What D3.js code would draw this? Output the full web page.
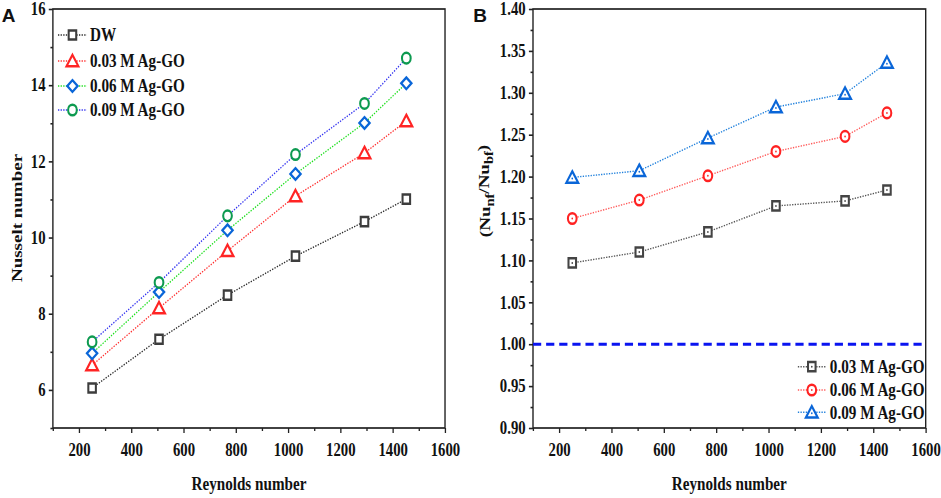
<!DOCTYPE html>
<html>
<head>
<meta charset="utf-8">
<script src="https://cdn.jsdelivr.net/npm/d3@7"></script>
<style>
  html, body { margin: 0; padding: 0; background: #fff; }
  svg { display: block; }
  text { font-family: "Liberation Serif", "Times New Roman", serif; font-weight: bold; fill: #111; }
</style>
</head>
<body>
<svg id="chart" width="941" height="498"></svg>
<script>
// data
const reynolds = [250, 506, 768, 1028, 1292, 1452];

const nuDW  = [6.05, 7.33, 8.49, 9.51, 10.42, 11.01];
const nu003 = [6.65, 8.15, 9.65, 11.09, 12.22, 13.06];
const nu006 = [6.96, 8.57, 10.19, 11.67, 13.01, 14.05];
const nu009 = [7.26, 8.82, 10.57, 12.18, 13.52, 14.71];

const ratio003 = [1.097, 1.110, 1.134, 1.165, 1.171, 1.184];
const ratio006 = [1.150, 1.172, 1.201, 1.230, 1.248, 1.276];
const ratio009 = [1.199, 1.207, 1.246, 1.283, 1.299, 1.336];

const xTicks = [200, 400, 600, 800, 1000, 1200, 1400, 1600];
const xMinor = [100, 300, 500, 700, 900, 1100, 1300, 1500];
const yTicksA = [6, 8, 10, 12, 14, 16];
const yMinorA = [5, 7, 9, 11, 13, 15];
const yTicksB = [0.90, 0.95, 1.00, 1.05, 1.10, 1.15, 1.20, 1.25, 1.30, 1.35, 1.40];
const yMinorB = [0.925, 0.975, 1.025, 1.075, 1.125, 1.175, 1.225, 1.275, 1.325, 1.375];

const labelsA = ["DW", "0.03 M Ag-GO", "0.06 M Ag-GO", "0.09 M Ag-GO"];
const labelsB = ["0.03 M Ag-GO", "0.06 M Ag-GO", "0.09 M Ag-GO"];

// the original figure is squeezed horizontally
const SX = 0.82;
const VW = 941 / SX, VH = 498;

const svg = d3.select("#chart")
    .attr("viewBox", `0 0 ${VW} ${VH}`)
    .attr("preserveAspectRatio", "none");

const plotTop = 9, plotBottom = 428;

function markerPath(shape) {
    switch (shape) {
        case "square":   return "M-4.6,-4.6H4.6V4.6H-4.6Z";
        case "triangle": return "M0,-6.2L7.2,5.2H-7.2Z";
        case "diamond":  return "M0,-5.8L6.3,0L0,5.8L-6.3,0Z";
        case "circle":   return d3.symbol(d3.symbolCircle, Math.PI * 5.3 * 5.3)();
    }
}

function drawPanel(cfg) {
    const x = d3.scaleLinear().domain([100, 1600]).range([cfg.x0, cfg.x1]);
    const y = d3.scaleLinear().domain(cfg.yDomain).range([plotBottom, plotTop]);
    const g = svg.append("g");

    g.append("g")
        .attr("transform", `translate(0,${plotBottom})`)
        .call(d3.axisBottom(x).tickValues(xTicks).tickSize(5).tickPadding(10).tickFormat(d3.format("d")))
        .call(a => a.select(".domain").remove())
        .call(a => a.selectAll("text").style("font-size", "18px").attr("fill", "#111"))
        .call(a => a.selectAll("line").attr("stroke", "#222").attr("stroke-width", 1.6));
    g.append("g")
        .attr("transform", `translate(0,${plotBottom})`)
        .call(d3.axisBottom(x).tickValues(xMinor).tickSize(3).tickFormat(""))
        .call(a => a.select(".domain").remove())
        .call(a => a.selectAll("line").attr("stroke", "#222").attr("stroke-width", 1.6));

    g.append("g")
        .attr("transform", `translate(${cfg.x0},0)`)
        .call(d3.axisLeft(y).tickValues(cfg.yTicks).tickSize(5).tickPadding(4).tickFormat(cfg.yFormat))
        .call(a => a.select(".domain").remove())
        .call(a => a.selectAll("text").style("font-size", "18px").attr("fill", "#111"))
        .call(a => a.selectAll("line").attr("stroke", "#222").attr("stroke-width", 1.6));
    g.append("g")
        .attr("transform", `translate(${cfg.x0},0)`)
        .call(d3.axisLeft(y).tickValues(cfg.yMinor).tickSize(3).tickFormat(""))
        .call(a => a.select(".domain").remove())
        .call(a => a.selectAll("line").attr("stroke", "#222").attr("stroke-width", 1.6));

    g.append("rect")
        .attr("x", cfg.x0).attr("y", plotTop)
        .attr("width", cfg.x1 - cfg.x0).attr("height", plotBottom - plotTop)
        .attr("fill", "none").attr("stroke", "#222").attr("stroke-width", 1.7);

    if (cfg.refLine !== undefined) {
        g.append("line")
            .attr("x1", cfg.x0).attr("x2", cfg.x1)
            .attr("y1", y(cfg.refLine)).attr("y2", y(cfg.refLine))
            .attr("stroke", "#0a14f0").attr("stroke-width", 3)
            .attr("stroke-dasharray", "10,6");
    }

    const line = d3.line().x(d => x(d[0])).y(d => y(d[1]));

    cfg.series.forEach(s => {
        const pts = reynolds.map((r, i) => [r, s.values[i]]);
        g.append("path")
            .datum(pts)
            .attr("fill", "none")
            .attr("stroke", s.lineColor)
            .attr("stroke-width", 1.4)
            .attr("stroke-dasharray", "1.6,1.6")
            .attr("d", line);
        const m = g.selectAll(null).data(pts).enter().append("g")
            .attr("transform", d => `translate(${x(d[0])},${y(d[1])})`);
        m.append("path")
            .attr("d", markerPath(s.shape))
            .attr("fill", "#fff")
            .attr("stroke", s.color)
            .attr("stroke-width", 2.5);
        if (cfg.centerDot) {
            m.append("circle").attr("r", 1).attr("cy", s.shape === "triangle" ? 1 : 0)
                .attr("fill", s.color);
        }
    });

    // legend
    cfg.series.forEach((s, i) => {
        const ly = cfg.legend.y[i];
        const lg = g.append("g");
        lg.append("line")
            .attr("x1", cfg.legend.x1).attr("x2", cfg.legend.x2)
            .attr("y1", ly).attr("y2", ly)
            .attr("stroke", s.lineColor).attr("stroke-width", 1.4)
            .attr("stroke-dasharray", "1.6,1.6");
        lg.append("path")
            .attr("transform", `translate(${(cfg.legend.x1 + cfg.legend.x2) / 2},${ly})`)
            .attr("d", markerPath(s.shape))
            .attr("fill", "#fff").attr("stroke", s.color).attr("stroke-width", 2.5);
        if (cfg.centerDot) {
            lg.append("circle").attr("r", 1)
                .attr("cx", (cfg.legend.x1 + cfg.legend.x2) / 2)
                .attr("cy", ly + (s.shape === "triangle" ? 1 : 0))
                .attr("fill", s.color);
        }
        lg.append("text")
            .attr("x", cfg.legend.tx).attr("y", ly).attr("dy", "0.35em")
            .style("font-size", "18.5px")
            .text(cfg.labels[i]);
    });

    // axis titles
    g.append("text")
        .attr("x", (cfg.x0 + cfg.x1) / 2).attr("y", 490)
        .attr("text-anchor", "middle")
        .style("font-size", "18.5px")
        .text("Reynolds number");

    const yt = g.append("text")
        .attr("transform", `translate(${cfg.yTitleX},${cfg.yTitleY}) rotate(-90)`)
        .attr("text-anchor", "middle")
        .attr("dy", "0.35em")
        .style("font-size", "19px");
    cfg.yTitle(yt);

    // panel letter, drawn without the horizontal squeeze
    svg.append("text")
        .attr("transform", `translate(${cfg.letterX},22) scale(${1 / SX},1)`)
        .style("font-family", "'Liberation Sans', Arial, sans-serif")
        .style("font-size", "19px")
        .text(cfg.letter);
}

drawPanel({
    letter: "A", letterX: 2,
    x0: 64.5, x1: 542.7,
    yDomain: [5, 16], yTicks: yTicksA, yMinor: yMinorA, yFormat: d3.format("d"),
    yTitleX: 20.5, yTitleY: 218,
    yTitle: t => t.text("Nusselt number"),
    labels: labelsA,
    legend: { x1: 70.7, x2: 106, tx: 109.8, y: [35, 61, 86, 110] },
    series: [
        { values: nuDW,  shape: "square",   color: "#3d3d3d", lineColor: "#2a2a2a" },
        { values: nu003, shape: "triangle", color: "#ff2424", lineColor: "#ff3030" },
        { values: nu006, shape: "diamond",  color: "#0a66d8", lineColor: "#1ee01e" },
        { values: nu009, shape: "circle",   color: "#0d9a50", lineColor: "#3535f0" }
    ]
});

drawPanel({
    letter: "B", letterX: 577,
    x0: 650, x1: 1128.9,
    yDomain: [0.9, 1.4], yTicks: yTicksB, yMinor: yMinorB, yFormat: d3.format(".2f"),
    yTitleX: 591, yTitleY: 191,
    yTitle: t => {
        t.append("tspan").text("(Nu");
        t.append("tspan").attr("dy", "0.3em").style("font-size", "14.5px").text("nf");
        t.append("tspan").attr("dy", "-0.3em").text("/Nu");
        t.append("tspan").attr("dy", "0.3em").style("font-size", "14.5px").text("bf");
        t.append("tspan").attr("dy", "-0.3em").text(")");
    },
    refLine: 1.0,
    centerDot: true,
    labels: labelsB,
    legend: { x1: 973, x2: 1007, tx: 1012, y: [366.7, 390, 412.3] },
    series: [
        { values: ratio003, shape: "square",   color: "#444444", lineColor: "#555555" },
        { values: ratio006, shape: "circle",   color: "#ff2222", lineColor: "#ff5a5a" },
        { values: ratio009, shape: "triangle", color: "#0a66d8", lineColor: "#2080dc" }
    ]
});
</script>
</body>
</html>
